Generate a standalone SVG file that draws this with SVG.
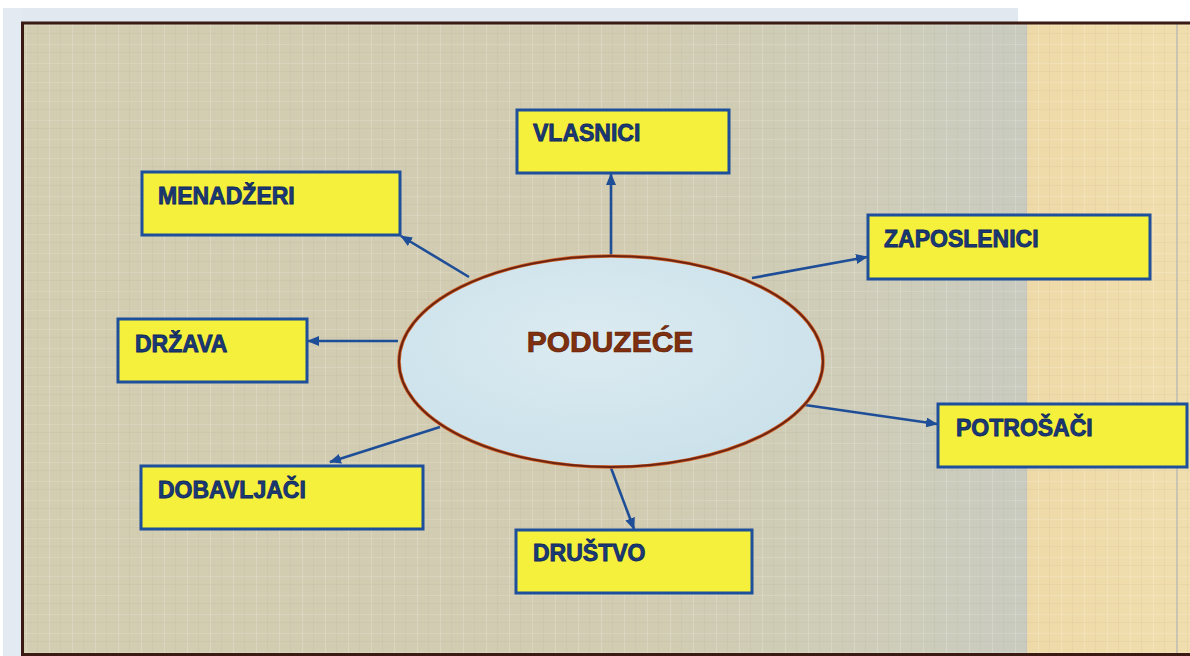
<svg xmlns="http://www.w3.org/2000/svg" width="1190" height="656" viewBox="0 0 1190 656">
  <defs>
    <style>
      .box rect { fill: #f4f03c; stroke: #1d4f9c; stroke-width: 3; }
      .box text { font-family: "Liberation Sans", Arial, sans-serif; font-weight: bold; font-size: 23px; fill: #1b3a78; stroke: #10285a; stroke-width: 0.8; }
      .conn line { stroke: #1f4e98; stroke-width: 2.6; marker-end: url(#arrow); }
      .center text { font-family: "Liberation Sans", Arial, sans-serif; font-weight: bold; font-size: 30px; fill: #80300f; stroke: #5a1e08; stroke-width: 0.7; }
    </style>
    <marker id="arrow" markerUnits="userSpaceOnUse" markerWidth="12" markerHeight="10" refX="11" refY="5" orient="auto">
      <path d="M0,0 L12,5 L0,10 Z" fill="#1f4e98"/>
    </marker>
    <linearGradient id="bg" x1="0" y1="0" x2="1" y2="0" gradientUnits="objectBoundingBox">
      <stop offset="0" stop-color="#d3cdb1"/>
      <stop offset="0.55" stop-color="#d1ccb2"/>
      <stop offset="0.75" stop-color="#cecdba"/>
      <stop offset="0.86" stop-color="#c9cbc0"/>
      <stop offset="0.861" stop-color="#eedaa8"/>
      <stop offset="1" stop-color="#f1deae"/>
    </linearGradient>
    <radialGradient id="ell" cx="0.45" cy="0.4" r="0.7">
      <stop offset="0" stop-color="#dcebf1"/>
      <stop offset="1" stop-color="#c9e0ea"/>
    </radialGradient>
    <pattern id="linen" width="23" height="19" patternUnits="userSpaceOnUse">
      <rect x="3" y="0" width="1" height="19" fill="#ffffff" opacity="0.18"/>
      <rect x="14" y="0" width="1" height="19" fill="#8a8670" opacity="0.07"/>
      <rect x="0" y="6" width="23" height="1" fill="#ffffff" opacity="0.14"/>
      <rect x="0" y="14" width="23" height="1" fill="#8a8670" opacity="0.07"/>
    </pattern>
  </defs>

  <!-- scan margins -->
  <rect x="0" y="0" width="1190" height="656" fill="#ffffff"/>
  <rect x="3" y="8" width="1015" height="15" fill="#e1e8ef"/>
  <rect x="3" y="8" width="19" height="648" fill="#e4eaf1"/>

  <!-- slide background -->
  <rect x="22" y="22" width="1168" height="634" fill="url(#bg)"/>
  <rect x="22" y="22" width="1168" height="634" fill="url(#linen)"/>
  <line x1="1177" y1="22" x2="1177" y2="656" stroke="#bdbbb0" stroke-width="1.5"/>

  <!-- frame -->
  <path d="M1190,23 L22.5,23 L22.5,654.5 L1190,654.5" fill="none" stroke="#3b1a14" stroke-width="3"/>

  <!-- connectors -->
  <g id="connectors" class="conn">
    <line x1="611" y1="255" x2="611" y2="174"/>
    <line x1="752" y1="278" x2="867" y2="257"/>
    <line x1="805" y1="405" x2="937" y2="424"/>
    <line x1="611" y1="468" x2="634" y2="529"/>
    <line x1="440" y1="427" x2="330" y2="462"/>
    <line x1="398" y1="341" x2="308" y2="341"/>
    <line x1="469" y1="277" x2="401" y2="236"/>
  </g>

  <!-- center -->
  <g id="poduzece" class="center">
    <ellipse cx="611" cy="361.5" rx="212" ry="105.5" fill="url(#ell)" stroke="#d2642a" stroke-width="3.5"/>
    <ellipse cx="611" cy="361.5" rx="212" ry="105.5" fill="none" stroke="#6e2410" stroke-width="2"/>
    <text x="610" y="352" text-anchor="middle">PODUZEĆE</text>
  </g>

  <g id="vlasnici" class="box">
    <rect x="517" y="110" width="212" height="63"/>
    <text x="533" y="141">VLASNICI</text>
  </g>
  <g id="zaposlenici" class="box">
    <rect x="868" y="215" width="282" height="64"/>
    <text x="884" y="247">ZAPOSLENICI</text>
  </g>
  <g id="potrosaci" class="box">
    <rect x="938" y="404" width="249" height="63"/>
    <text x="956" y="436">POTROŠAČI</text>
  </g>
  <g id="drustvo" class="box">
    <rect x="516" y="530" width="236" height="63"/>
    <text x="533" y="561">DRUŠTVO</text>
  </g>
  <g id="dobavljaci" class="box">
    <rect x="141" y="466" width="282" height="63"/>
    <text x="158" y="498">DOBAVLJAČI</text>
  </g>
  <g id="drzava" class="box">
    <rect x="118" y="319" width="189" height="63"/>
    <text x="135" y="352">DRŽAVA</text>
  </g>
  <g id="menadzeri" class="box">
    <rect x="142" y="172" width="258" height="63"/>
    <text x="158" y="204">MENADŽERI</text>
  </g>
</svg>
